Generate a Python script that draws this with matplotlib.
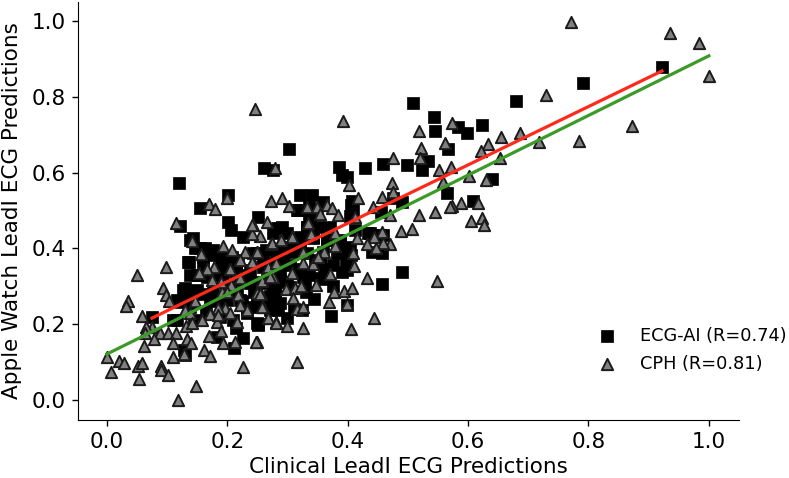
import matplotlib
matplotlib.use("Agg")
import matplotlib.pyplot as plt

ecg_x = [0.922,0.791,0.679,0.623,0.583,0.598,0.566,0.640,0.565,0.608,0.508,0.543,0.545,0.302,0.261,0.276,0.385,0.429,0.390,0.399,
0.458,0.498,0.533,0.523,0.321,0.341,0.359,0.407,0.409,0.490,0.475,0.455,0.251,0.317,0.336,0.291,0.282,0.332,0.350,0.321,
0.434,0.412,0.458,0.440,0.457,0.490,0.457,0.390,0.399,0.355,0.344,0.329,0.399,0.372,0.284,0.324,0.251,0.243,
0.365,0.404,0.387,0.399,0.342,0.321,0.305,0.354,0.271,0.259,0.249,0.276,0.266,0.279,0.287,0.292,
0.120,0.201,0.154,0.201,0.206,0.121,0.226,0.143,0.146,0.163,0.179,0.136,0.159,0.208,0.243,0.193,0.130,0.138,0.121,0.075,
0.226,0.211,0.128,0.130,0.166,0.204,0.238,0.221,0.176,0.249,0.183,0.249,0.216,0.233,
0.170,0.190,0.215,0.235,0.255,0.150,0.160,0.185,0.200,0.225,0.245,0.265,0.300,0.315,0.330,0.345,0.360,0.375,0.300,0.280,0.310,0.335,0.260,0.215,0.145,0.110,
0.138,0.154,0.135,0.160,0.177,0.199,0.218,0.265,0.282,0.138,0.160,0.182,0.204,0.238,0.265,0.127,0.149,0.171,0.199,0.221,0.249,0.271,0.116,0.138,0.165,0.188,0.232,0.251,0.287,0.271,0.116,0.210,0.188,0.215,
0.335,0.315,0.337,0.332,0.287,0.276,0.299,0.321,0.343,0.365,0.387,0.287,0.310,0.332,0.359,0.382,0.282,0.304,0.354,0.376,0.398,0.406,0.287,0.304,0.326,0.354,0.279,0.406,0.404,0.437,0.453,0.370]
ecg_y = [0.879,0.836,0.789,0.726,0.720,0.704,0.662,0.583,0.546,0.525,0.784,0.747,0.710,0.662,0.612,0.607,0.615,0.612,0.594,0.588,
0.623,0.620,0.631,0.607,0.541,0.541,0.522,0.525,0.501,0.522,0.533,0.496,0.483,0.501,0.483,0.456,0.454,0.456,0.456,0.430,
0.441,0.449,0.435,0.390,0.388,0.338,0.306,0.338,0.343,0.319,0.266,0.317,0.251,0.222,0.237,0.237,0.200,0.245,
0.422,0.404,0.414,0.388,0.430,0.404,0.404,0.361,0.361,0.377,0.388,0.298,0.317,0.282,0.335,0.369,
0.573,0.541,0.507,0.470,0.449,0.459,0.430,0.427,0.401,0.401,0.383,0.364,0.361,0.377,0.388,0.322,0.296,0.272,0.259,0.219,
0.164,0.137,0.132,0.119,0.325,0.343,0.343,0.317,0.290,0.203,0.166,0.256,0.282,0.230,
0.390,0.365,0.350,0.330,0.310,0.330,0.280,0.260,0.300,0.260,0.285,0.270,0.310,0.345,0.285,0.370,0.345,0.300,0.215,0.260,0.240,0.330,0.350,0.190,0.210,0.210,
0.422,0.400,0.365,0.378,0.396,0.374,0.369,0.396,0.387,0.330,0.330,0.317,0.299,0.308,0.308,0.290,0.290,0.264,0.264,0.264,0.264,0.273,0.264,0.246,0.233,0.220,0.238,0.198,0.255,0.238,0.211,0.211,0.334,0.334,
0.510,0.501,0.479,0.457,0.453,0.440,0.440,0.422,0.426,0.422,0.422,0.396,0.391,0.387,0.391,0.387,0.352,0.356,0.360,0.356,0.365,0.382,0.317,0.299,0.325,0.321,0.290,0.514,0.484,0.440,0.435,0.457]

cph_x = [0.771,0.935,0.983,1.000,0.729,0.872,0.784,0.686,0.718,0.654,0.633,0.621,0.653,0.573,0.561,0.571,0.601,0.630,0.558,0.616,0.588,0.573,0.623,0.605,0.626,
0.246,0.392,0.518,0.522,0.520,0.475,0.279,0.551,0.473,0.402,0.475,0.457,0.417,0.272,0.291,0.302,0.332,0.349,0.365,0.374,0.354,0.384,0.442,0.470,0.412,0.518,0.545,0.570,
0.488,0.507,0.457,0.444,0.379,0.415,0.470,0.432,0.458,0.447,0.334,0.339,0.307,0.289,0.272,0.266,0.254,0.243,0.241,0.249,0.243,0.267,0.281,0.326,0.360,0.379,0.350,0.342,0.326,0.409,0.410,0.370,0.307,0.276,0.257,0.432,0.548,0.347,0.297,0.312,0.322,0.256,0.309,0.377,0.394,0.407,0.369,0.399,0.316,0.326,0.259,0.267,0.281,0.299,0.326,0.444,0.405,0.249,0.316,
0.169,0.179,0.199,0.115,0.241,0.141,0.193,0.208,0.229,0.249,0.156,0.221,0.241,0.178,0.166,0.098,0.050,0.204,0.153,0.174,0.093,0.098,0.103,0.146,0.035,0.032,0.130,0.058,0.191,0.206,0.218,0.249,0.138,0.171,0.196,0.204,0.221,0.233,0.184,0.158,0.131,0.141,0.183,0.216,0.075,0.065,0.088,0.101,0.115,0.078,0.063,0.110,0.133,0.140,0.169,0.189,0.193,0.213,0.248,0.061,0.000,0.020,0.028,0.051,0.058,0.007,0.053,0.090,0.090,0.101,0.110,0.161,0.171,0.128,0.226,0.148,0.118,
0.190,0.221,0.257,0.271,0.199,0.254,0.258,0.185,0.268,0.281,0.274,0.351,0.289,0.307]
cph_y = [0.997,0.968,0.942,0.855,0.805,0.723,0.683,0.704,0.681,0.694,0.675,0.657,0.638,0.731,0.678,0.615,0.591,0.580,0.575,0.520,0.520,0.512,0.480,0.472,0.462,
0.768,0.736,0.710,0.665,0.638,0.638,0.612,0.607,0.573,0.567,0.549,0.536,0.533,0.525,0.533,0.512,0.509,0.509,0.515,0.507,0.491,0.488,0.509,0.488,0.483,0.488,0.496,0.509,
0.446,0.451,0.443,0.430,0.441,0.427,0.412,0.412,0.414,0.401,0.467,0.438,0.430,0.422,0.412,0.470,0.433,0.462,0.438,0.390,0.364,0.351,0.361,0.390,0.390,0.406,0.377,0.359,0.361,0.388,0.354,0.332,0.335,0.325,0.317,0.322,0.314,0.303,0.293,0.296,0.301,0.280,0.269,0.285,0.288,0.296,0.259,0.253,0.240,0.245,0.245,0.216,0.206,0.195,0.190,0.216,0.187,0.153,0.100,
0.517,0.504,0.533,0.467,0.462,0.420,0.406,0.396,0.390,0.390,0.385,0.369,0.364,0.351,0.346,0.351,0.330,0.346,0.335,0.317,0.296,0.277,0.261,0.261,0.261,0.248,0.237,0.222,0.285,0.303,0.277,0.282,0.230,0.227,0.243,0.230,0.251,0.237,0.243,0.211,0.195,0.203,0.206,0.206,0.193,0.193,0.177,0.177,0.177,0.161,0.177,0.150,0.161,0.150,0.169,0.182,0.150,0.153,0.153,0.142,0.113,0.103,0.098,0.090,0.098,0.074,0.055,0.090,0.079,0.066,0.113,0.132,0.116,0.121,0.087,0.037,0.000,
0.312,0.321,0.314,0.325,0.286,0.280,0.245,0.224,0.216,0.204,0.413,0.378,0.422,0.431]

ecg_fit_x = [0.075, 0.922]
ecg_fit_y = [0.216, 0.868]
cph_fit_x = [0.000, 1.000]
cph_fit_y = [0.121, 0.908]

x_label = "Clinical LeadI ECG Predictions"
y_label = "Apple Watch LeadI ECG Predictions"
ecg_label = "ECG-AI (R=0.74)"
cph_label = "CPH (R=0.81)"
ticks = [0.0, 0.2, 0.4, 0.6, 0.8, 1.0]

fig = plt.figure(figsize=(7.89, 4.78), dpi=100)
ax = fig.add_axes([78/789, (478-420)/478, (739-78)/789, (420-2)/478])

ax.scatter(ecg_x, ecg_y, marker="s", s=78, color="black", edgecolors="black",
           linewidths=0.5, label=ecg_label, zorder=2)
ax.scatter(cph_x, cph_y, marker="^", s=66, facecolors="#808080", edgecolors="#1a1a1a",
           linewidths=1.4, label=cph_label, zorder=3)
ax.plot(ecg_fit_x, ecg_fit_y, color="#ff2a1a", lw=2.3, zorder=4)
ax.plot(cph_fit_x, cph_fit_y, color="#3c9a28", lw=2.3, zorder=5)

ax.set_xlim(-0.048, 1.05)
ax.set_ylim(-0.053, 1.05)
ax.set_xticks(ticks)
ax.set_yticks(ticks)
ax.tick_params(labelsize=15.5, length=4.5, width=1, pad=4)
ax.set_xlabel(x_label, fontsize=15.5, labelpad=4)
ax.set_ylabel(y_label, fontsize=15.5, labelpad=7)
for side in ("top", "right"):
    ax.spines[side].set_visible(False)

ax.legend(loc="center left", bbox_to_anchor=(0.75, 0.168), frameon=False,
          fontsize=12.75, handletextpad=0.85, labelspacing=0.55, scatterpoints=1)

fig.savefig("out.png", dpi=100)
